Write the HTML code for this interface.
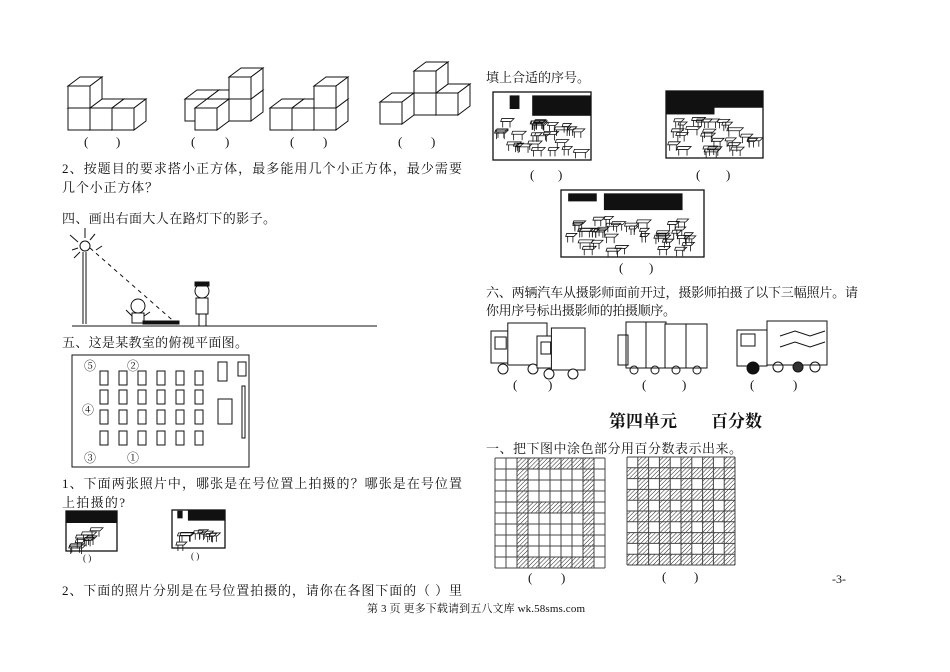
<!DOCTYPE html>
<html><head><meta charset="utf-8"><style>
html,body{margin:0;padding:0;background:#fff}
svg{display:block}
text{font-family:"Liberation Serif","Noto Serif CJK SC","Noto Sans CJK SC",serif;fill:#111}
</style></head><body>
<svg id="s" width="950" height="672" viewBox="0 0 950 672" xmlns="http://www.w3.org/2000/svg">
<g id="draw" stroke="#111" fill="none" stroke-width="1"></g>
<g font-size="13">
<text x="84" y="146">(</text><text x="116" y="146">)</text>
<text x="191" y="146">(</text><text x="225" y="146">)</text>
<text x="290" y="146">(</text><text x="323" y="146">)</text>
<text x="398" y="146">(</text><text x="431" y="146">)</text>
<text x="62" y="173" textLength="400" lengthAdjust="spacing">2、按题目的要求搭小正方体，最多能用几个小正方体，最少需要</text>
<text x="62" y="192" textLength="96" lengthAdjust="spacing">几个小正方体？</text>
<text x="62" y="223" textLength="214" lengthAdjust="spacing">四、画出右面大人在路灯下的影子。</text>
<text x="62" y="347" textLength="186" lengthAdjust="spacing">五、这是某教室的俯视平面图。</text>
<text x="84" y="370" font-size="12">⑤</text><text x="127" y="370" font-size="12">②</text>
<text x="82" y="414" font-size="12">④</text><text x="84" y="462" font-size="12">③</text>
<text x="127" y="462" font-size="12">①</text>
<text x="62" y="488" textLength="400" lengthAdjust="spacing">1、下面两张照片中，哪张是在号位置上拍摄的？哪张是在号位置</text>
<text x="62" y="507" textLength="63" lengthAdjust="spacing">上拍摄的?</text>
<text x="83" y="561" font-size="9">(  )</text><text x="191" y="559" font-size="9">(  )</text>
<text x="62" y="595" textLength="400" lengthAdjust="spacing">2、下面的照片分别是在号位置拍摄的，请你在各图下面的（ ）里</text>
<text x="486" y="82" textLength="104" lengthAdjust="spacing">填上合适的序号。</text>
<text x="530" y="179">(</text><text x="558" y="179">)</text>
<text x="696" y="179">(</text><text x="726" y="179">)</text>
<text x="619" y="272">(</text><text x="649" y="272">)</text>
<text x="486" y="297" textLength="372" lengthAdjust="spacing">六、两辆汽车从摄影师面前开过，摄影师拍摄了以下三幅照片。请</text>
<text x="486" y="315" textLength="190" lengthAdjust="spacing">你用序号标出摄影师的拍摄顺序。</text>
<text x="513" y="389">(</text><text x="548" y="389">)</text>
<text x="642" y="389">(</text><text x="682" y="389">)</text>
<text x="750" y="389">(</text><text x="793" y="389">)</text>
<text x="609" y="427" font-size="17" font-weight="bold" font-family="Liberation Sans,Noto Sans CJK SC,sans-serif">第四单元</text>
<text x="711" y="427" font-size="17" font-weight="bold" font-family="Liberation Sans,Noto Sans CJK SC,sans-serif">百分数</text>
<text x="486" y="453" textLength="256" lengthAdjust="spacing">一、把下图中涂色部分用百分数表示出来。</text>
<text x="528" y="582">(</text><text x="561" y="582">)</text>
<text x="662" y="581">(</text><text x="694" y="581">)</text>
<text x="832" y="583" font-size="12">-3-</text>
<text x="367" y="612" font-size="11" textLength="218" lengthAdjust="spacing">第 3 页 更多下载请到五八文库 wk.58sms.com</text>
</g>
</svg>
<script>
var g=document.getElementById('draw'),NS='http://www.w3.org/2000/svg';
function el(t,a,p){var e=document.createElementNS(NS,t);for(var k in a)e.setAttribute(k,a[k]);(p||g).appendChild(e);return e}
function poly(pts,f){return el('polygon',{points:pts.map(p=>p.join(',')).join(' '),fill:f||'#fff'})}
function cube(X0,Yb,c,r,k){var s=22,dx=12,dy=-9;var x=X0+c*s+k*dx,y=Yb-(r+1)*s+k*dy;
 poly([[x,y],[x+dx,y+dy],[x+s+dx,y+dy],[x+s,y]]);
 poly([[x+s,y],[x+s+dx,y+dy],[x+s+dx,y+s+dy],[x+s,y+s]]);
 el('rect',{x:x,y:y,width:s,height:s,fill:'#fff'});}
function fig(X0,Yb,list){list.sort((a,b)=>b[2]-a[2]||a[1]-b[1]||a[0]-b[0]);list.forEach(q=>cube(X0,Yb,q[0],q[1],q[2]))}
fig(68,130,[[0,0,0],[1,0,0],[2,0,0],[0,1,0]]);
fig(173,130,[[0,0,1],[1,0,1],[2,0,1],[2,1,1],[1,0,0]]);
fig(270,130,[[0,0,0],[1,0,0],[2,0,0],[2,1,0]]);
fig(380,124,[[0,0,0],[1,0,1],[2,0,1],[1,1,1]]);
// lamp scene
el('line',{x1:72,y1:326,x2:377,y2:326});
el('line',{x1:83,y1:252,x2:83,y2:324});el('line',{x1:86,y1:252,x2:86,y2:324});
el('circle',{cx:85,cy:246,r:5});
[[70,235,78,242],[85,228,85,238],[95,234,90,240],[72,250,78,248],[96,250,102,246],[74,258,80,252]].forEach(l=>el('line',{x1:l[0],y1:l[1],x2:l[2],y2:l[3]}));
el('line',{x1:90,y1:248,x2:178,y2:325,'stroke-dasharray':'4,4'});
el('rect',{x:143,y:321,width:36,height:3,fill:'#111'});
el('circle',{cx:138,cy:306,r:7});el('rect',{x:132,y:313,width:12,height:10});
el('line',{x1:126,y1:310,x2:132,y2:316});el('line',{x1:144,y1:316,x2:150,y2:312});
el('circle',{cx:202,cy:291,r:7});el('rect',{x:196,y:298,width:12,height:16});
el('line',{x1:199,y1:314,x2:199,y2:326});el('line',{x1:206,y1:314,x2:206,y2:326});
el('rect',{x:195,y:282,width:14,height:4,fill:'#111'});
// classroom
el('rect',{x:72,y:355,width:177,height:112});
for(var c=0;c<6;c++)for(var r=0;r<4;r++)el('rect',{x:100+c*19,y:371+[0,19,39,60][r],width:8,height:14});
el('rect',{x:218,y:362,width:9,height:19});el('rect',{x:238,y:362,width:8,height:14});
el('rect',{x:218,y:399,width:14,height:25});el('rect',{x:242,y:386,width:3,height:52});
// photos
var seed=7;function rnd(){seed=(seed*9301+49297)%233280;return seed/233280}
function photo(x,y,w,h,blk){el('rect',{x:x,y:y,width:w,height:h,'stroke-width':1.3});
 blk.forEach(b=>el('rect',{x:x+b[0]*w,y:y+b[1]*h,width:b[2]*w,height:b[3]*h,fill:'#111',stroke:'none'}));
 var n=Math.round(w*h/260);for(var i=0;i<n;i++){var px=x+2+rnd()*(w-16),py=y+h*0.38+rnd()*(h*0.5);
 var ww=8+rnd()*8;
 el('path',{d:'M'+px+','+py+'h'+ww+'l-3,3h-'+(ww-2)+'z M'+(px+1)+','+(py+3)+'v6 M'+(px+ww-4)+','+(py+3)+'v6','stroke-width':0.8})}}
photo(66,511,51,40,[[0,0,1,0.3]]);
photo(172,510,53,38,[[0.3,0,0.7,0.28],[0.1,0.02,0.1,0.2]]);
photo(493,92,98,68,[[0.4,0.05,0.6,0.3],[0.17,0.05,0.1,0.2]]);
photo(666,91,97,67,[[0,0,1,0.25],[0,0.2,0.5,0.15]]);
photo(561,190,143,67,[[0.3,0.05,0.55,0.25],[0.05,0.05,0.2,0.12]]);
// trucks
function truck(x,y,w){el('rect',{x:x,y:y+8,width:w*0.35,height:32,fill:'#fff'});el('rect',{x:x+w*0.3,y:y,width:w*0.7,height:42,fill:'#fff'});
 el('rect',{x:x+4,y:y+14,width:w*0.2,height:12});el('circle',{cx:x+12,cy:y+46,r:5,fill:'#fff'});el('circle',{cx:x+w*0.75,cy:y+46,r:5,fill:'#fff'});}
truck(491,323,56);truck(537,328,48);
el('rect',{x:626,y:322,width:40,height:46,fill:'#fff'});el('rect',{x:665,y:324,width:42,height:44,fill:'#fff'});
el('line',{x1:646,y1:322,x2:646,y2:368});el('line',{x1:686,y1:324,x2:686,y2:368});
el('rect',{x:618,y:335,width:10,height:30});
[634,655,676,697].forEach(cx=>el('circle',{cx:cx,cy:370,r:4}));
el('rect',{x:737,y:330,width:30,height:36,fill:'#fff'});el('rect',{x:767,y:321,width:60,height:44,fill:'#fff'});
el('path',{d:'M780,336l15,-5l15,5l15,-5 M780,347l15,-5l15,5l15,-5'});el('rect',{x:741,y:334,width:14,height:12});
el('circle',{cx:753,cy:368,r:6,fill:'#111'});el('circle',{cx:778,cy:367,r:5});el('circle',{cx:798,cy:367,r:5,fill:'#333'});el('circle',{cx:815,cy:367,r:5});
// hatch pattern
var defs=el('defs',{},document.getElementById('s'));
var p=el('pattern',{id:'h',width:3,height:3,patternUnits:'userSpaceOnUse',patternTransform:'rotate(45)'},defs);
el('line',{x1:0,y1:0,x2:0,y2:3,stroke:'#222','stroke-width':1},p);
function grid(x,y,cs,f){for(var r=0;r<10;r++)for(var c=0;c<10;c++)if(f(r,c))el('rect',{x:x+c*cs,y:y+r*cs,width:cs,height:cs,fill:'url(#h)',stroke:'none'});
 for(var i=0;i<=10;i++){el('line',{x1:x+i*cs,y1:y,x2:x+i*cs,y2:y+10*cs,stroke:'#444'});el('line',{x1:x,y1:y+i*cs,x2:x+10*cs,y2:y+i*cs,stroke:'#444'})}}
grid(495,458,11,(r,c)=>(c==2||c==8)||((r==0||r==4||r==9)&&c>=2&&c<=8));
grid(627,457,10.8,(r,c)=>r%2==1||c%2==1);
</script>
</body></html>
